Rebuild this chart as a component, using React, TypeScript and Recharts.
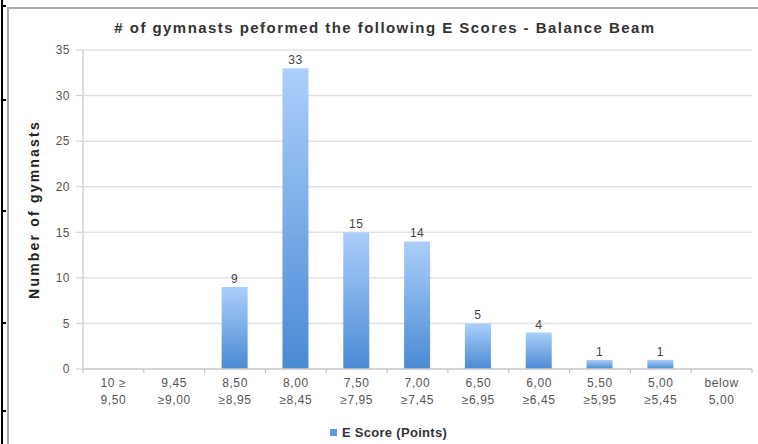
import { BarChart, Bar, XAxis, YAxis, CartesianGrid, Legend, LabelList } from "recharts";

const scoreRanges = [
  ["10 ≥", "9,50"],
  ["9,45", "≥9,00"],
  ["8,50", "≥8,95"],
  ["8,00", "≥8,45"],
  ["7,50", "≥7,95"],
  ["7,00", "≥7,45"],
  ["6,50", "≥6,95"],
  ["6,00", "≥6,45"],
  ["5,50", "≥5,95"],
  ["5,00", "≥5,45"],
  ["below", "5,00"],
];
const gymnastCounts = [0, 0, 9, 33, 15, 14, 5, 4, 1, 1, 0];
const yTicks = [0, 5, 10, 15, 20, 25, 30, 35];

const data = scoreRanges.map((r, i) => ({ range: r.join("\n"), count: gymnastCounts[i] }));

const FONT = "'Liberation Sans', Arial, sans-serif";
const TICK_COLOR = "#555";
const PLOT_W = 669;

function RangeTick(props: any) {
  const { x, y, payload, index } = props;
  const [l1, l2] = String(payload.value).split("\n");
  const half = PLOT_W / scoreRanges.length / 2;
  return (
    <g>
      <line x1={x - half} x2={x - half} y1={y - 8} y2={y - 4} stroke="#bbb" />
      {index === scoreRanges.length - 1 && (
        <line x1={x + half} x2={x + half} y1={y - 8} y2={y - 4} stroke="#bbb" />
      )}
      <text x={x} y={y} textAnchor="middle" fill={TICK_COLOR} fontSize={12} letterSpacing={0.6} fontFamily={FONT}>
        <tspan x={x} dy={10}>{l1}</tspan>
        <tspan x={x} dy={17}>{l2}</tspan>
      </text>
    </g>
  );
}

function LegendContent() {
  return (
    <div style={{ display: "flex", justifyContent: "center", alignItems: "center", fontFamily: FONT, fontSize: 13, fontWeight: "bold", letterSpacing: 0.3, color: "#333", paddingLeft: 12, paddingTop: 6 }}>
      <span style={{ width: 7, height: 7, background: "#5b9be3", display: "inline-block", marginRight: 5 }} />
      E Score (Points)
    </div>
  );
}

export default function App() {
  const leftTicks = [5, 99, 210, 322, 410];
  return (
    <div style={{ position: "fixed", left: 0, top: 0, width: 758, height: 444, background: "#fff", overflow: "hidden" }}>
      {/* frame */}
      <div style={{ position: "absolute", left: 1, top: 0, width: 2, height: 444, background: "#000" }} />
      {leftTicks.map((t) => (
        <div key={t} style={{ position: "absolute", left: 1, top: t, width: 5, height: 2, background: "#000" }} />
      ))}
      <div style={{ position: "absolute", left: 7, top: 7, width: 2, height: 437, background: "#aaa" }} />
      <div style={{ position: "absolute", left: 7, top: 7, width: 751, height: 2, background: "#aaa" }} />
      <div style={{ position: "absolute", left: 0, top: 19, width: 770, textAlign: "center", fontFamily: FONT, fontSize: 15, fontWeight: "bold", letterSpacing: 1.45, color: "#333" }}>
        # of gymnasts peformed the following E Scores - Balance Beam
      </div>
      <div style={{ position: "absolute", left: 0, top: 0 }}>
        <BarChart width={758} height={444} data={data} margin={{ top: 50, right: 6, left: 13, bottom: 0 }} barSize={26}>
          <defs>
            <linearGradient id="barGrad" x1="0" y1="0" x2="0" y2="1">
              <stop offset="0%" stopColor="#abcffb" />
              <stop offset="100%" stopColor="#4a8ad4" />
            </linearGradient>
          </defs>
          <CartesianGrid vertical={false} stroke="#e2e2e2" strokeWidth={1.5} />
          <XAxis
            dataKey="range"
            interval={0}
            height={50}
            axisLine={{ stroke: "#ccc", strokeWidth: 1.5 }}
            tickLine={false}
            tick={<RangeTick />}
          />
          <YAxis
            domain={[0, 35]}
            ticks={yTicks}
            width={70}
            axisLine={{ stroke: "#ddd", strokeWidth: 2 }}
            tickLine={{ stroke: "#ccc" }}
            tickSize={7}
            tick={{ fill: TICK_COLOR, fontSize: 12, fontFamily: FONT, dx: -4, letterSpacing: 0.5 }}
            label={{
              value: "Number of gymnasts",
              angle: -90,
              position: "insideLeft",
              offset: 21,
              style: { textAnchor: "middle", fill: "#222", fontSize: 14, fontWeight: "bold", letterSpacing: 2.2, fontFamily: FONT },
            }}
          />
          <Legend verticalAlign="bottom" height={25} content={<LegendContent />} />
          <Bar dataKey="count" name="E Score (Points)" fill="url(#barGrad)" isAnimationActive={false}>
            <LabelList
              dataKey="count"
              position="top"
              offset={4}
              formatter={(v: any) => (v ? v : "")}
              style={{ fill: "#444", fontSize: 12, fontFamily: FONT, letterSpacing: 0.5 }}
            />
          </Bar>
        </BarChart>
      </div>
    </div>
  );
}
